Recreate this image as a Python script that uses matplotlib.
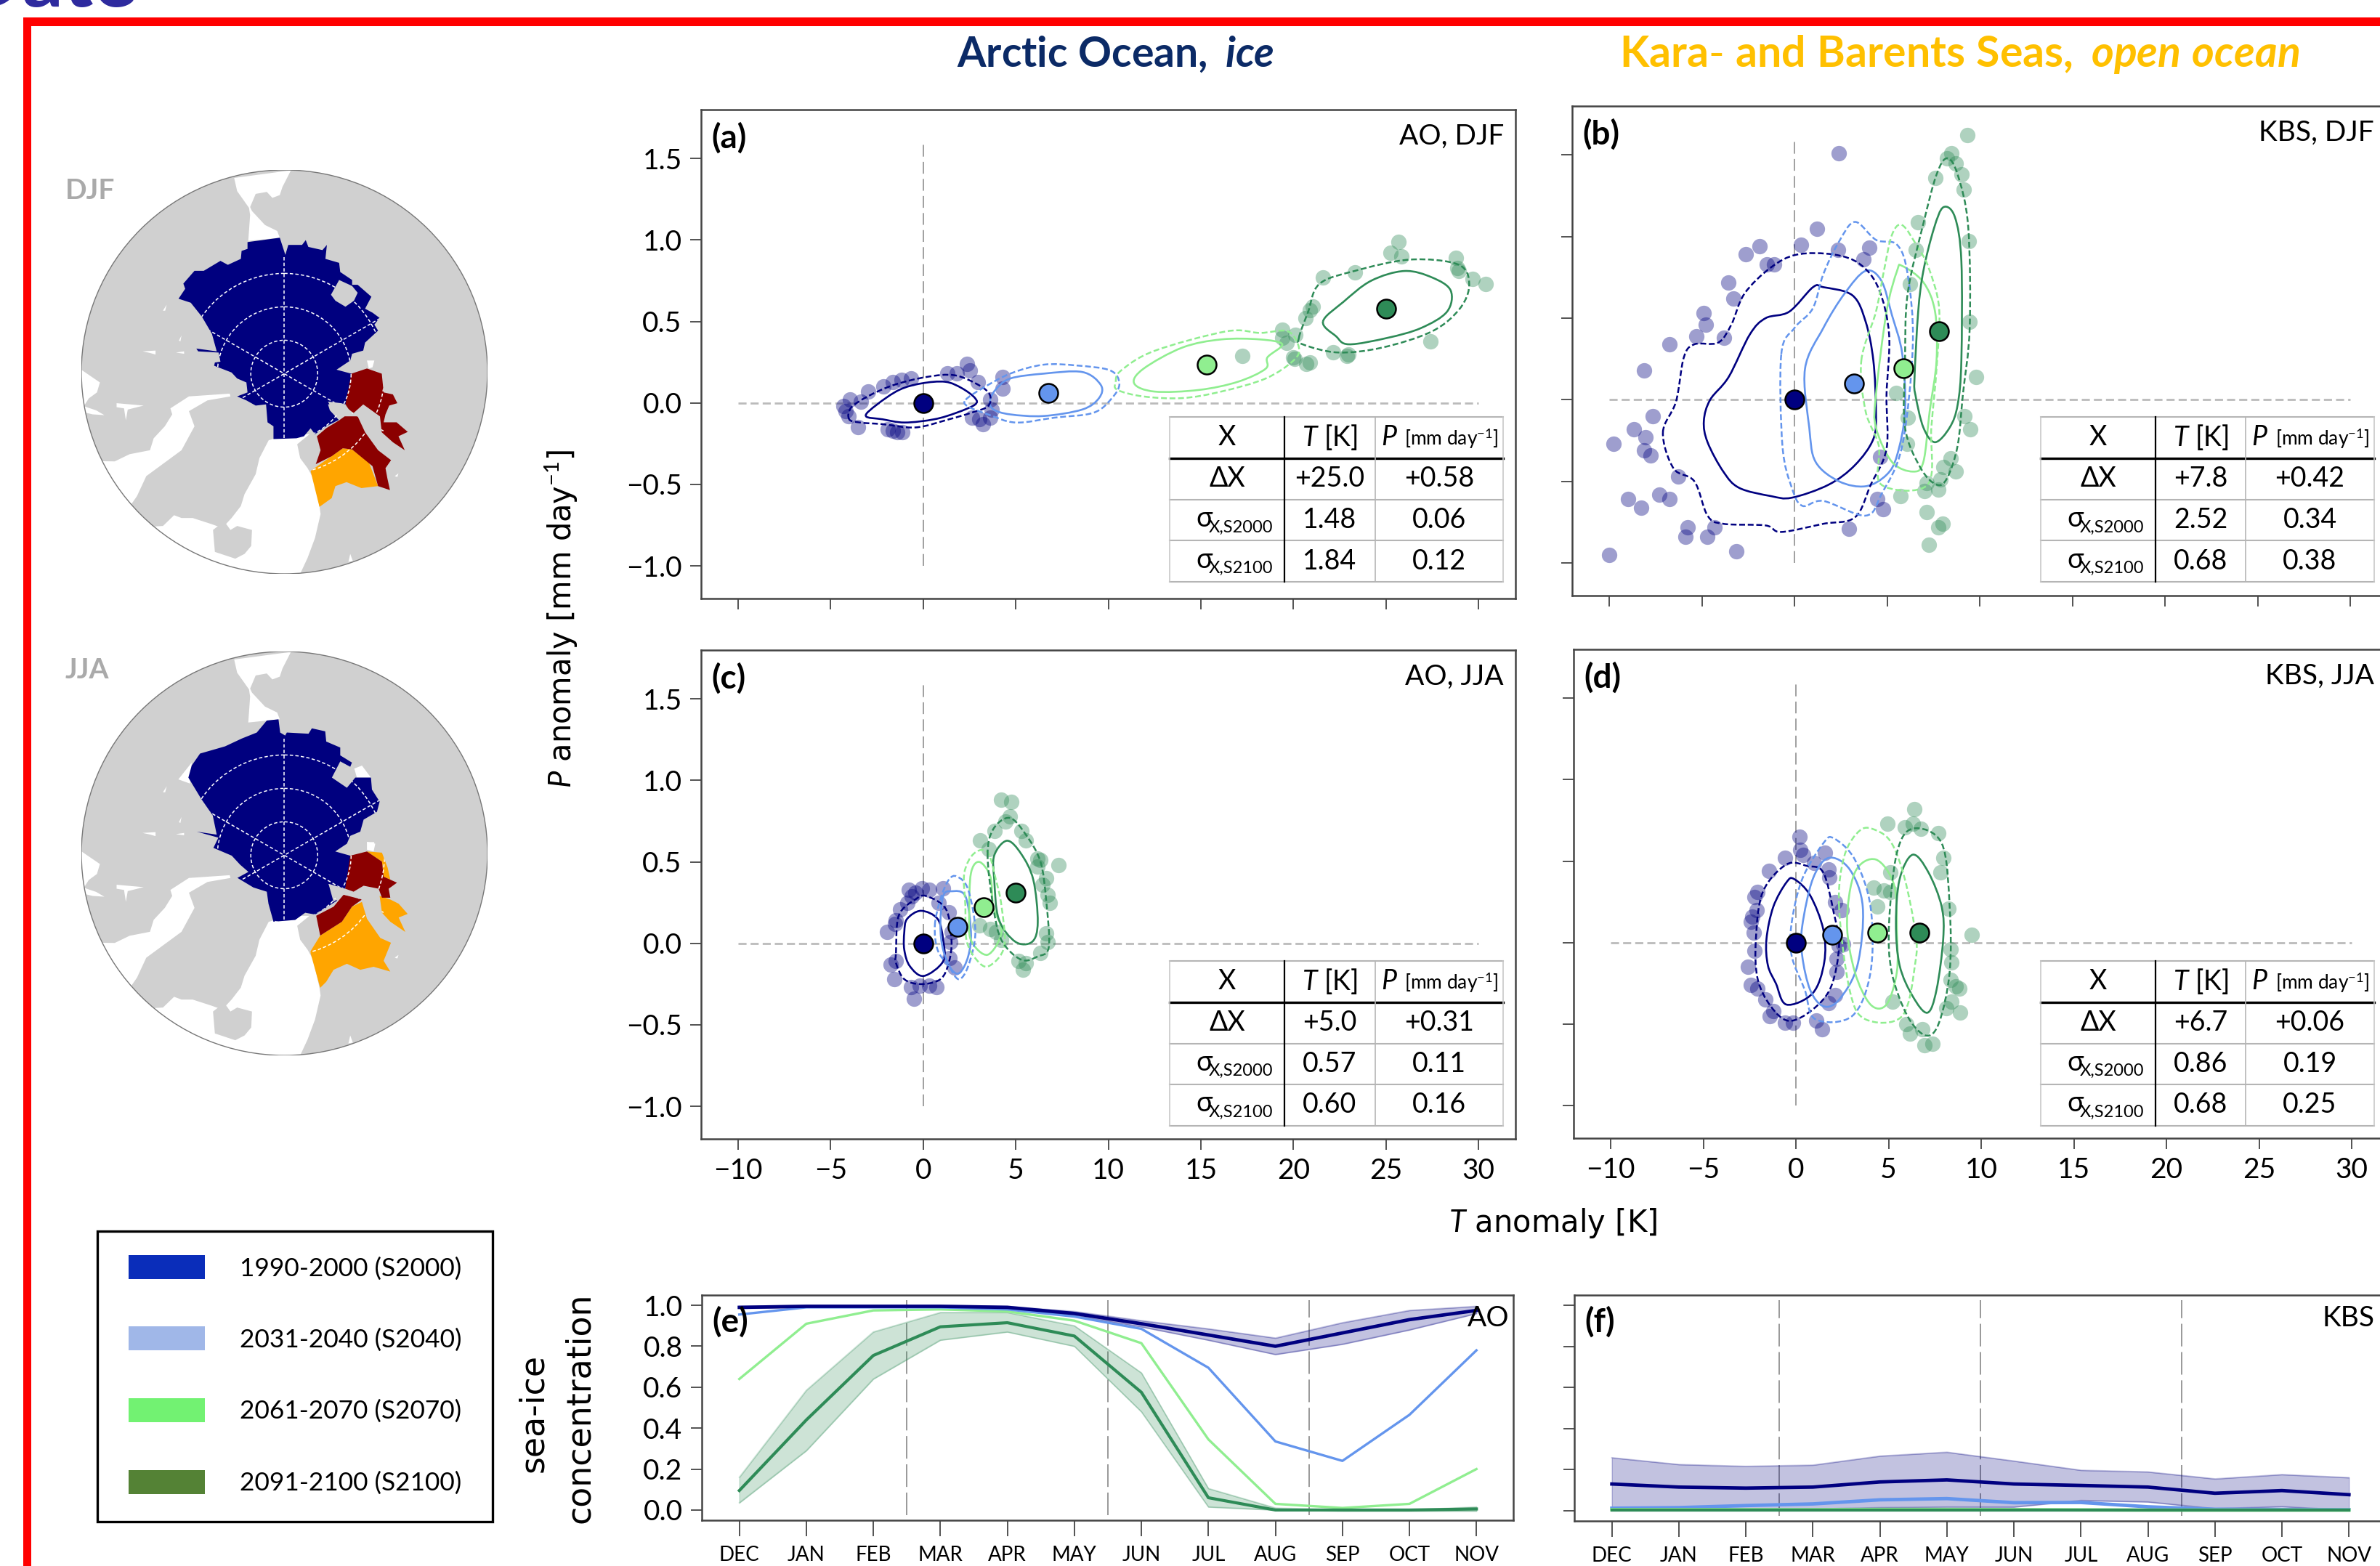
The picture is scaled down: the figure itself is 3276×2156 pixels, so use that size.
#!/usr/bin/env python3
import numpy as np
import matplotlib
matplotlib.use("Agg")
import matplotlib.pyplot as plt
from matplotlib.patches import Ellipse, PathPatch, Polygon, Rectangle
from matplotlib.path import Path

plt.rcParams['font.family'] = ['Lato', 'DejaVu Sans']
plt.rcParams['mathtext.fontset'] = 'custom'
plt.rcParams['mathtext.rm'] = 'Lato'
plt.rcParams['mathtext.it'] = 'Lato:italic'
plt.rcParams['mathtext.bf'] = 'Lato:bold'
plt.rcParams['mathtext.bfit'] = 'Lato:italic:bold'

W, H = 3276, 2156
NAVY, BLUE, LT, DARK = 'navy', 'cornflowerblue', 'lightgreen', 'seagreen'
series_colors = [NAVY, BLUE, LT, DARK]

# ---- scatter panels: ensemble members (T, P anomaly), means, contours
a_navy = [(-4.32,-0.02),(-3.96,0.02),(-4.17,-0.05),(-4.02,-0.08),(-3.36,0.01),(-2.97,0.07),(-2.16,0.10),(-1.62,0.13),(-1.17,0.14),(-0.66,0.15),(-3.51,-0.15),(-1.92,-0.16),(-1.62,-0.17),(-1.41,-0.18),(-1.11,-0.18),(1.29,0.18),(1.83,0.18),(2.37,0.24),(2.52,0.20),(2.94,0.13),(3.63,0.02),(3.69,-0.04),(2.64,-0.09),(3.03,-0.10),(3.24,-0.13),(3.63,-0.09),(4.29,0.16),(4.29,0.09)]
a_dark = [(25.7,0.99),(25.26,0.92),(25.83,0.90),(28.77,0.89),(28.86,0.83),(28.92,0.81),(29.7,0.76),(30.39,0.73),(21.6,0.77),(23.33,0.80),(21.05,0.59),(20.9,0.57),(20.66,0.52),(27.42,0.38),(19.4,0.45),(19.4,0.40),(20.09,0.42),(19.64,0.37),(17.24,0.29),(20.0,0.28),(20.06,0.27),(20.9,0.25),(20.69,0.24),(22.16,0.31),(22.9,0.29),(22.97,0.30)]
a_means = [(0,0),(6.76,0.06),(15.3,0.235),(25.0,0.58)]
a_solid = [
    [(-3.1,-0.08),(-2.5,-0.01),(-1.3,0.08),(-0.1,0.12),(1.2,0.13),(2.1,0.09),(2.8,0.03),(2.8,-0.01),(1.8,-0.06),(0.6,-0.10),(-1.0,-0.12),(-2.2,-0.10)],
    [(3.6,0.01),(3.9,0.08),(4.7,0.15),(6.5,0.18),(8.6,0.19),(9.6,0.11),(9.5,0.03),(8.6,-0.04),(6.5,-0.08),(4.7,-0.07),(3.8,-0.04)],
    [(11.4,0.12),(11.9,0.21),(14.0,0.34),(16.1,0.39),(18.2,0.39),(19.4,0.36),(18.6,0.28),(18.5,0.21),(17.0,0.13),(14.9,0.08),(12.5,0.07)],
    [(21.6,0.50),(22.7,0.62),(24.2,0.75),(26.0,0.81),(27.5,0.77),(28.5,0.69),(28.3,0.56),(26.9,0.46),(25.1,0.40),(23.0,0.36),(22.3,0.41)],
]
a_dashed = [
    [(-4.0,-0.10),(-3.9,-0.03),(-3.0,0.04),(-1.6,0.11),(0.2,0.16),(1.7,0.17),(3.0,0.11),(3.6,0.05),(3.5,-0.02),(2.6,-0.06),(1.4,-0.10),(-0.4,-0.15),(-2.2,-0.13),(-3.4,-0.12)],
    [(2.3,0.02),(3.2,0.09),(4.7,0.18),(6.5,0.235),(8.3,0.23),(10.1,0.20),(10.6,0.12),(10.2,0.03),(9.2,-0.06),(7.1,-0.09),(5.0,-0.12),(3.5,-0.07),(2.4,-0.02)],
    [(10.4,0.13),(10.7,0.20),(12.5,0.32),(16.4,0.44),(18.2,0.43),(19.7,0.44),(20.3,0.34),(20.0,0.26),(18.5,0.15),(16.1,0.07),(14.0,0.03),(11.9,0.04),(10.5,0.08)],
    [(20.3,0.40),(20.8,0.56),(21.4,0.73),(23.3,0.81),(26.3,0.88),(28.9,0.85),(29.5,0.73),(29.0,0.58),(27.5,0.44),(24.8,0.34),(22.4,0.31),(20.5,0.36)],
]

b_navy = [(2.41,1.51),(1.22,1.05),(0.37,0.95),(-1.88,0.94),(-2.61,0.89),(-1.48,0.83),(-1.08,0.83),(2.36,0.92),(4.03,0.93),(3.72,0.86),(-3.55,0.72),(-3.30,0.62),(-4.91,0.53),(-4.77,0.46),(-5.31,0.39),(-3.81,0.38),(-6.73,0.34),(-8.13,0.18),(-7.64,-0.10),(-8.66,-0.18),(-8.04,-0.23),(-9.77,-0.27),(-8.13,-0.31),(-7.76,-0.34),(-6.28,-0.47),(-7.30,-0.58),(-6.76,-0.61),(-9.0,-0.61),(-8.27,-0.66),(-5.77,-0.78),(-5.88,-0.84),(-4.32,-0.78),(-4.69,-0.84),(-3.13,-0.93),(-10.0,-0.95),(2.93,-0.79),(4.46,-0.61),(4.80,-0.67),(4.63,-0.35)]
b_dark = [(9.32,1.62),(8.47,1.51),(8.24,1.48),(8.72,1.45),(9.03,1.38),(9.12,1.29),(7.59,1.36),(6.68,1.09),(9.40,0.97),(6.53,0.92),(6.25,0.71),(9.46,0.48),(9.80,0.14),(5.48,0.04),(6.11,-0.11),(9.18,-0.10),(9.49,-0.18),(6.08,-0.27),(8.44,-0.36),(8.04,-0.41),(8.72,-0.44),(7.90,-0.49),(7.13,-0.51),(7.02,-0.56),(7.76,-0.55),(5.74,-0.59),(7.13,-0.69),(8.01,-0.76),(7.78,-0.78),(7.27,-0.89)]
b_means = [(0,0),(3.21,0.10),(5.88,0.195),(7.81,0.42)]
b_solid = [
    [(-4.89,-0.13),(-4.55,0),(-3.55,0.14),(-2.41,0.40),(-1.56,0.50),(-0.28,0.54),(1.0,0.69),(1.56,0.69),(3.13,0.64),(3.84,0.48),(4.26,0.24),(4.40,-0.07),(4.26,-0.24),(3.27,-0.40),(1.85,-0.52),(-0.14,-0.60),(-1.28,-0.59),(-2.98,-0.54),(-3.84,-0.44),(-4.69,-0.26)],
    [(0.57,0.19),(1.56,0.44),(2.70,0.65),(3.84,0.79),(4.69,0.73),(5.26,0.52),(5.82,0.28),(5.97,-0.07),(5.54,-0.34),(4.97,-0.46),(3.84,-0.53),(2.41,-0.50),(1.14,-0.38),(0.80,-0.17)],
    [(4.40,0.03),(4.97,0.54),(5.54,0.79),(5.82,0.82),(6.96,0.72),(7.59,0.54),(7.67,0.24),(7.30,-0.07),(6.96,-0.38),(6.39,-0.44),(5.26,-0.38),(4.40,-0.17)],
    [(6.48,0.13),(6.68,0.54),(6.96,0.79),(7.53,1.05),(8.04,1.18),(8.66,1.12),(9.01,0.85),(9.01,0.24),(8.81,-0.03),(8.38,-0.17),(7.59,-0.26),(6.96,-0.17),(6.53,0.03)],
]
b_dashed = [
    [(-7.10,-0.20),(-6.39,-0.01),(-5.97,0.26),(-5.40,0.34),(-4.12,0.35),(-3.41,0.46),(-2.70,0.65),(-1.28,0.81),(0.14,0.89),(2.13,0.89),(3.55,0.83),(4.55,0.68),(5.11,0.40),(4.97,0.03),(4.97,-0.30),(4.12,-0.52),(3.27,-0.72),(1.56,-0.76),(-0.71,-0.81),(-1.56,-0.77),(-3.84,-0.76),(-4.69,-0.71),(-5.40,-0.50),(-6.53,-0.42)],
    [(-0.71,0.28),(0,0.44),(0.99,0.56),(1.56,0.77),(2.41,0.97),(3.27,1.09),(4.40,0.98),(5.54,0.95),(6.11,0.77),(6.39,0.34),(5.82,-0.28),(4.69,-0.58),(3.84,-0.71),(1.56,-0.62),(0.43,-0.65),(-0.14,-0.54),(-0.65,-0.28)],
    [(3.61,0.24),(4.40,0.54),(4.83,0.79),(5.26,1.01),(5.82,1.07),(6.68,0.93),(7.24,0.81),(7.81,0.56),(7.67,0.19),(7.39,-0.17),(7.19,-0.52),(4.69,-0.52),(4.55,-0.28),(3.84,-0.07)],
    [(5.97,0.24),(6.11,0.65),(6.96,1.08),(7.67,1.38),(8.24,1.48),(8.81,1.38),(9.38,1.06),(9.46,0.44),(9.09,0.03),(8.81,-0.28),(8.24,-0.48),(7.67,-0.52),(6.82,-0.42),(5.97,-0.17)],
]

c_navy = [(-1.95,0.07),(-1.47,0.14),(-1.53,0.12),(-1.23,0.21),(-0.87,0.25),(-0.63,0.29),(-0.78,0.33),(-0.42,0.31),(-0.06,0.34),(0.33,0.33),(1.08,0.34),(0.84,0.25),(1.38,0.19),(1.53,0.07),(1.47,0.01),(-1.77,-0.13),(-1.47,-0.11),(-1.56,-0.22),(1.44,-0.09),(1.68,-0.15),(-0.66,-0.27),(-0.18,-0.26),(-0.48,-0.34),(0.33,-0.26),(0.72,-0.27)]
c_dark = [(4.2,0.88),(4.77,0.87),(4.68,0.78),(4.44,0.75),(3.84,0.69),(3.09,0.63),(3.54,0.58),(5.29,0.69),(5.56,0.63),(6.19,0.52),(6.34,0.51),(7.33,0.48),(6.64,0.40),(6.43,0.36),(6.73,0.30),(6.85,0.25),(6.19,0.47),(3.03,0.11),(3.63,0.09),(3.93,0.07),(4.23,0.02),(6.64,0.06),(6.73,0.01),(6.34,-0.06),(5.14,-0.11),(5.53,-0.12),(5.38,-0.16)]
c_means = [(0,0),(1.86,0.10),(3.27,0.22),(5.0,0.31)]
c_solid = [
    [(-1.02,0.07),(-0.87,0.15),(-0.12,0.20),(0.78,0.15),(1.08,0.02),(1.08,-0.11),(0.03,-0.20),(-0.72,-0.14),(-1.02,-0.04)],
    [(0.93,0.11),(1.08,0.29),(1.53,0.32),(2.28,0.29),(2.58,0.07),(2.43,-0.08),(1.98,-0.18),(1.53,-0.16),(1.08,-0.04)],
    [(2.49,0.19),(2.58,0.43),(3.03,0.50),(3.63,0.41),(3.78,0.23),(4.23,0.07),(3.48,-0.07),(2.58,0.02)],
    [(3.84,0.39),(3.84,0.54),(4.53,0.63),(5.29,0.55),(5.95,0.39),(6.19,0.13),(5.89,0.01),(4.98,0.01),(4.08,0.15)],
]
c_dashed = [
    [(-1.47,-0.06),(-1.32,0.17),(-0.42,0.27),(0.18,0.29),(1.23,0.21),(1.53,0.02),(1.38,-0.12),(0.93,-0.22),(-0.12,-0.25),(-1.02,-0.22),(-1.47,-0.12)],
    [(0.63,0.11),(0.93,0.27),(1.38,0.39),(1.83,0.41),(2.43,0.33),(2.82,0.07),(2.43,-0.14),(1.92,-0.22),(1.38,-0.14),(0.78,-0.04)],
    [(2.28,0.23),(2.22,0.43),(2.73,0.55),(3.48,0.56),(3.93,0.39),(4.23,0.23),(4.38,-0.02),(3.54,-0.14),(2.88,-0.10),(2.34,0.02)],
    [(3.48,0.54),(3.78,0.70),(4.68,0.77),(5.59,0.66),(6.34,0.50),(6.64,0.27),(6.79,-0.02),(6.19,-0.08),(5.29,-0.10),(4.23,0.02),(3.78,0.23)],
]

d_navy = [(0.20,0.65),(0.23,0.57),(0.40,0.54),(-0.60,0.52),(-1.45,0.44),(1.56,0.55),(0.97,0.49),(1.76,0.45),(1.82,0.40),(-2.07,0.31),(-2.22,0.28),(-2.13,0.20),(-2.36,0.16),(-2.44,0.13),(-2.27,0.06),(-2.22,-0.05),(-2.59,-0.15),(-2.44,-0.26),(-2.07,-0.28),(-1.65,-0.35),(-1.22,-0.42),(-1.42,-0.45),(-0.60,-0.49),(-0.14,-0.49),(1.11,-0.48),(1.42,-0.53),(1.76,-0.37),(2.10,-0.32),(2.19,-0.18),(2.19,-0.10),(2.33,-0.02),(2.56,-0.01),(2.13,0.25),(2.47,0.20)]
d_dark = [(6.39,0.82),(4.94,0.73),(5.88,0.71),(6.31,0.73),(6.73,0.70),(7.67,0.67),(7.95,0.52),(7.81,0.43),(5.11,0.43),(4.18,0.34),(4.74,0.32),(5.11,0.31),(4.40,0.22),(8.24,0.21),(9.49,0.05),(8.35,-0.04),(8.38,-0.12),(8.35,-0.23),(8.64,-0.27),(8.81,-0.28),(8.38,-0.36),(8.10,-0.40),(8.86,-0.43),(5.20,-0.36),(5.97,-0.50),(6.14,-0.56),(6.82,-0.53),(6.93,-0.63),(7.39,-0.62)]
d_means = [(0,0),(1.96,0.05),(4.38,0.06),(6.65,0.06)]
d_solid = [
    [(-1.59,0.02),(-1.22,0.22),(-0.51,0.37),(-0.09,0.39),(0.77,0.29),(1.48,0.08),(1.53,-0.12),(0.91,-0.31),(-0.51,-0.38),(-1.08,-0.25),(-1.51,-0.14)],
    [(0.34,0.10),(0.91,0.39),(1.76,0.52),(2.90,0.45),(3.61,0.22),(3.32,-0.14),(2.33,-0.35),(1.48,-0.39),(0.77,-0.29),(0.34,-0.08)],
    [(2.76,0.12),(3.18,0.43),(4.32,0.51),(5.31,0.35),(5.45,0.06),(5.45,-0.18),(4.89,-0.38),(4.03,-0.38),(3.18,-0.18)],
    [(5.40,0.12),(5.60,0.39),(6.31,0.54),(7.16,0.43),(7.87,0.22),(7.95,0.02),(7.59,-0.29),(7.10,-0.43),(6.31,-0.33),(5.60,-0.14)],
]
d_dashed = [
    [(-2.16,0.02),(-1.79,0.31),(-0.51,0.48),(0.63,0.47),(1.48,0.43),(2.05,0.18),(2.33,-0.02),(1.90,-0.27),(0.91,-0.41),(-0.37,-0.48),(-1.36,-0.39),(-2.07,-0.22)],
    [(-0.23,0.12),(0.34,0.39),(1.48,0.61),(2.05,0.64),(3.18,0.51),(4.03,0.22),(4.03,-0.18),(3.04,-0.45),(1.05,-0.47),(0.48,-0.29),(-0.23,-0.08)],
    [(2.33,0.22),(2.61,0.53),(3.47,0.69),(4.32,0.69),(5.17,0.61),(5.88,0.39),(6.45,0.06),(6.45,-0.12),(5.74,-0.45),(3.75,-0.47),(2.90,-0.29)],
    [(5.03,0.12),(5.45,0.55),(6.31,0.70),(7.87,0.61),(8.30,0.22),(8.30,-0.18),(7.73,-0.49),(7.02,-0.57),(6.02,-0.45),(5.17,-0.18)],
]

table_a = [["+25.0","+0.58"],["1.48","0.06"],["1.84","0.12"]]
table_b = [["+7.8","+0.42"],["2.52","0.34"],["0.68","0.38"]]
table_c = [["+5.0","+0.31"],["0.57","0.11"],["0.60","0.16"]]
table_d = [["+6.7","+0.06"],["0.86","0.19"],["0.68","0.25"]]

# ---- sea-ice panels
months = ["DEC","JAN","FEB","MAR","APR","MAY","JUN","JUL","AUG","SEP","OCT","NOV"]
e_navy = [0.99,0.995,0.995,0.995,0.99,0.96,0.91,0.855,0.80,0.865,0.93,0.975]
e_navy_hi = [0.995,1.0,1.0,1.0,0.995,0.97,0.925,0.885,0.84,0.915,0.975,0.995]
e_navy_lo = [0.985,0.99,0.99,0.99,0.985,0.95,0.895,0.83,0.76,0.81,0.88,0.96]
e_blue = [0.955,0.99,0.99,0.99,0.98,0.945,0.885,0.695,0.335,0.24,0.465,0.78]
e_lt = [0.64,0.91,0.975,0.98,0.97,0.925,0.815,0.345,0.03,0.01,0.03,0.2]
e_dark = [0.095,0.44,0.755,0.895,0.915,0.85,0.575,0.06,0.0,0.0,0.0,0.005]
e_dark_hi = [0.16,0.585,0.87,0.965,0.965,0.90,0.67,0.105,0.01,0.0,0.0,0.015]
e_dark_lo = [0.035,0.29,0.64,0.83,0.87,0.80,0.48,0.015,0.0,-0.005,-0.005,-0.005]
f_navy = [0.13,0.115,0.11,0.115,0.14,0.15,0.13,0.123,0.115,0.085,0.098,0.078]
f_navy_hi = [0.258,0.225,0.216,0.222,0.266,0.285,0.242,0.197,0.189,0.155,0.176,0.161]
f_navy_lo = [0.01,0.008,0.008,0.008,0.015,0.018,0.018,0.05,0.043,0.01,0.02,0.002]
f_blue = [0.012,0.015,0.025,0.033,0.053,0.059,0.039,0.04,0.019,0.007,0.006,0.005]
f_lt = [0.005,0.005,0.005,0.005,0.006,0.006,0.005,0.004,0.003,0.003,0.003,0.003]
f_dark = [0.002,0.002,0.002,0.002,0.002,0.002,0.002,0.002,0.002,0.002,0.002,0.002]

white_seas = [
    [(632,447),(785,428),(762,470),(755,490),(735,497),(720,482),(690,487),(675,520),(680,530),(715,565),(748,580),(755,597),(670,605),(675,540),(672,522),(640,480)],
    [(215,925),(270,960),(262,985),(240,1000),(225,1022),(215,1022)],
    [(228,1020),(260,1030),(282,1042),(250,1040),(228,1035)],
    [(315,1012),(388,1018),(345,1028),(340,1055),(335,1025),(315,1022)],
    [(725,1105),(700,1150),(690,1190),(660,1240),(650,1270),(625,1300),(600,1325),(570,1315),(520,1300),(490,1300),(470,1293),(440,1320),(400,1322),(500,1460),(800,1460),(830,1400),(850,1350),(865,1290),(862,1270),(845,1200),(830,1175),(810,1150),(802,1115),(835,1090),(780,1090)],
    [(240,1157),(310,1158),(350,1140),(405,1130),(415,1100),(445,1070),(465,1040),(460,1025),(510,995),(620,988),(622,995),(560,1005),(510,1032),(525,1070),(490,1130),(395,1195),(370,1245),(355,1265),(330,1300),(240,1250)],
    [(385,882),(420,880),(420,890),(405,886)],
    [(475,885),(497,882),(497,888)],
    [(440,780),(450,765),(446,780)],
    [(483,855),(490,842),(487,857)],
    [(990,905),(1010,905),(1005,922),(995,925)],
    [(940,1410),(945,1390),(952,1408)],
    [(1065,1195),(1075,1188),(1072,1197)],
]
iceland = [(575,1330),(605,1308),(622,1330),(640,1320),(680,1330),(678,1370),(660,1390),(635,1402),(580,1385)]
djf_blue = [(668,608),(755,597),(770,640),(778,615),(815,615),(825,603),(832,620),(870,628),(882,615),(878,650),(915,660),(918,683),(950,703),(950,715),(965,715),(1002,745),(985,775),(1005,785),(1024,798),(1010,815),(1020,830),(985,860),(980,880),(950,888),(945,905),(908,928),(948,938),(945,990),(932,1015),(920,1012),(885,1008),(900,1035),(918,1052),(880,1070),(850,1090),(838,1075),(820,1095),(800,1100),(738,1102),(738,1070),(722,1060),(718,1015),(690,1018),(665,1005),(640,995),(668,985),(665,960),(640,950),(625,935),(578,918),(580,910),(595,908),(590,885),(535,882),(530,875),(585,882),(572,838),(545,795),(515,760),(482,750),(500,725),(495,712),(525,680),(550,680),(595,655),(615,665),(650,650),(652,630),(668,625)]
djf_island = [(893,740),(915,703),(950,718),(965,735),(955,755),(932,770),(905,755)]
djf_red = [
    [(948,938),(990,925),(1030,938),(1035,985),(1060,990),(1072,1012),(1050,1018),(1040,1040),(1035,1060),(1070,1060),(1100,1084),(1075,1095),(1092,1130),(1060,1110),(1030,1085),(1025,1045),(980,1015),(950,1040),(932,1015)],
    [(930,1038),(965,1045),(985,1085),(1020,1130),(1055,1155),(1040,1175),(1045,1200),(1052,1230),(1020,1220),(1005,1170),(950,1128),(925,1125),(895,1145),(852,1165),(865,1130),(855,1095),(880,1075),(915,1055)],
]
djf_orange = [[(838,1182),(925,1125),(950,1128),(995,1160),(1020,1220),(975,1225),(935,1210),(905,1220),(895,1250),(862,1272)]]
djf_spit = [(885,1015),(920,1012),(965,1045),(930,1045),(915,1055),(890,1030)]

# JJA outlines, traced on their own grid (see jja_grid)
jja_blue_raw = [(770,180),(800,160),(835,158),(840,180),(855,185),(860,180),(925,182),(935,173),(975,178),(978,195),(1020,205),(1020,218),(1055,230),(1050,237),(1020,228),(995,255),(1040,272),(1065,255),(1112,255),(1115,275),(1138,295),(1130,312),(1090,325),(1080,345),(1050,352),(1040,365),(1005,378),(1050,385),(1052,405),(1035,440),(985,432),(1000,450),(1010,460),(945,483),(915,480),(885,492),(820,495),(805,465),(800,445),(760,438),(712,422),(745,412),(720,400),(695,385),(640,372),(655,355),(590,345),(650,350),(638,318),(603,290),(565,255),(575,235),(600,215),(675,203),(725,190)]
jja_red_raw = [
    [(1050,385),(1100,378),(1145,395),(1150,420),(1190,430),(1165,440),(1170,455),(1145,455),(1135,440),(1090,435),(1060,445),(1035,440)],
    [(948,485),(1000,470),(1030,450),(1085,458),(1055,470),(1025,495),(960,518)],
]
jja_orange_raw = [
    [(1100,378),(1145,380),(1162,405),(1170,425),(1150,420),(1145,395)],
    [(1138,452),(1170,458),(1195,465),(1222,482),(1195,488),(1215,512),(1170,495),(1145,480)],
    [(930,545),(960,518),(1025,495),(1055,470),(1085,462),(1100,490),(1140,522),(1172,530),(1150,560),(1170,578),(1120,570),(1080,575),(1040,565),(1000,575),(978,595),(960,605)],
]
jja_spit_raw = [(985,432),(1030,440),(1075,455),(1030,450),(1000,462)]
jja_white_raw = [[(535,258),(575,230),(570,265)],[(1062,240),(1085,235),(1112,255),(1070,255)],[(1100,362),(1125,365),(1120,378),(1100,375)]]

legend_labels = ["1990-2000 (S2000)","2031-2040 (S2040)","2061-2070 (S2070)","2091-2100 (S2100)"]
legend_colors = ['#0a2dba','#a0b7e8','#72f272','#548235']

LAND = '#d0d0d0'


def jja_grid(pts):
    return [(x*0.9, 359+y*1.5066) for x, y in pts]


def px_axes(l, t, r, b):
    return fig.add_axes([l/W, 1-b/H, (r-l)/W, (b-t)/H])


def style_axes(ax):
    for s in ax.spines.values():
        s.set_color('#444444')
        s.set_linewidth(1.8)
    ax.tick_params(length=11, width=1.3, color='#444444', labelsize=28, pad=8)


def loop_path(loop):
    # closed smooth curve through the read contour points
    pts = np.array(loop)
    verts = [pts[0]]
    codes = [Path.MOVETO]
    n = len(pts)
    for i in range(n):
        p0, p1, p2, p3 = pts[i-1], pts[i], pts[(i+1) % n], pts[(i+2) % n]
        verts += [p1+(p2-p0)/6, p2-(p3-p1)/6, p2]
        codes += [Path.CURVE4]*3
    return Path(verts, codes)


def draw_scatter(box, navy, dark, means, solid, dashed, tag, name, left_labels, bottom_labels):
    ax = px_axes(*box)
    style_axes(ax)
    ax.set_xlim(-12, 32)
    ax.set_ylim(-1.2, 1.8)
    ax.set_xticks(range(-10, 31, 5))
    ax.set_yticks([-1.0,-0.5,0,0.5,1.0,1.5])
    ax.set_yticklabels(["\u22121.0","\u22120.5","0.0","0.5","1.0","1.5"] if left_labels else [])
    ax.set_xticklabels([f"{v}".replace("-","\u2212") for v in range(-10,31,5)] if bottom_labels else [])
    ax.plot([0,0],[-1.0,1.6],color='#999999',lw=1.3,dashes=(9,4),zorder=1)
    ax.plot([-10,30],[0,0],color='#bbbbbb',lw=2,dashes=(4,2),zorder=1)
    for pts, col in ((navy,NAVY),(dark,DARK)):
        ax.scatter([p[0] for p in pts],[p[1] for p in pts],s=235,color=col,alpha=0.38,linewidths=0,zorder=2)
    for loop, col in zip(solid, series_colors):
        ax.add_patch(PathPatch(loop_path(loop),fill=False,edgecolor=col,lw=1.9,zorder=3))
    for loop, col in zip(dashed, series_colors):
        ax.add_patch(PathPatch(loop_path(loop),fill=False,edgecolor=col,lw=1.8,ls=(0,(3.2,1.5)),zorder=3))
    for m, col in zip(means, series_colors):
        ax.scatter([m[0]],[m[1]],s=350,color=col,edgecolors='black',linewidths=1.8,zorder=4)
    ax.text(0.013, 0.942, tag, transform=ax.transAxes, fontsize=33, fontweight='bold', va='center', ha='left')
    over.text(name[1], box[1]+37, name[0], fontsize=28, va='center', ha='right')
    return ax


def draw_table(cols, rows, vals):
    x0, x1, x2, x3 = cols
    for y in rows:
        thick = y == rows[1]
        over.plot([x0,x3],[y,y],color='black' if thick else '#b5b5b5',lw=2.4 if thick else 1.5,zorder=6)
    over.plot([x0,x0],[rows[0],rows[-1]],color='#c8c8c8',lw=1.2,zorder=6)
    over.plot([x3,x3],[rows[0],rows[-1]],color='#c8c8c8',lw=1.2,zorder=6)
    over.plot([x1,x1],[rows[0],rows[-1]],color='black',lw=1.6,zorder=6)
    over.plot([x2,x2],[rows[0],rows[-1]],color='#b5b5b5',lw=1.2,zorder=6)
    mids = [(rows[i]+rows[i+1])/2 for i in range(4)]
    over.text((x0+x1)/2, mids[0], "X", fontsize=27, ha='center', va='center')
    over.text((x1+x2)/2, mids[0], r"$\mathit{T}$ [K]", fontsize=27, ha='center', va='center')
    over.text(x2+8, mids[0], r"$\mathit{P}$", fontsize=27, ha='left', va='center')
    over.text(x3-6, mids[0]+2, r"[mm day$^{-1}$]", fontsize=19, ha='right', va='center')
    over.text((x0+x1)/2, mids[1], "\u0394X", fontsize=27, ha='center', va='center')
    for i, lab in enumerate(["X,S2000","X,S2100"]):
        over.text(x0+36, mids[2+i]-2, "\u03c3", fontsize=27, ha='left', va='center')
        over.text(x0+54, mids[2+i]+10, lab, fontsize=17, ha='left', va='center')
    for i, row in enumerate(vals):
        over.text((x1+x2)/2, mids[i+1], row[0], fontsize=27, ha='center', va='center')
        over.text((x2+x3)/2, mids[i+1], row[1], fontsize=27, ha='center', va='center')


def draw_ice(box, lines, bands, tag, name, name_x, left_labels):
    ax = px_axes(*box)
    style_axes(ax)
    x = np.arange(12)
    ax.set_xlim(-0.56, 11.55)
    ax.set_ylim(-0.05, 1.05)
    ax.set_xticks(x)
    ax.set_xticklabels(months, fontsize=20)
    ax.tick_params(axis='x', length=16, pad=9)
    ax.set_yticks([0,0.2,0.4,0.6,0.8,1.0])
    if not left_labels:
        ax.set_yticklabels([])
    for v in (2.5,5.5,8.5):
        ax.plot([v,v],[-0.025,1.025],color='#999999',lw=1.4,dashes=(16,4),zorder=1)
    for lo, hi, col in bands:
        ax.fill_between(x,lo,hi,color=col,alpha=0.24,zorder=2)
        ax.plot(x,lo,color=col,alpha=0.2,lw=1.4,zorder=2)
        ax.plot(x,hi,color=col,alpha=0.2,lw=1.4,zorder=2)
    for vals, col, lw in lines:
        ax.plot(x,vals,color=col,lw=lw,zorder=3)
    ax.text(0.013,0.88,tag,transform=ax.transAxes,fontsize=33,fontweight='bold',va='center',ha='left')
    over.text(name_x,1815,name,fontsize=28,va='center',ha='right',zorder=7)
    return ax


def draw_map(top, blue, reds, oranges, spit, extra_white, island, label, label_y):
    ax = px_axes(112, top, 671, top+556)
    ax.set_xlim(220,1315)
    ax.set_ylim(1440,427)
    ax.axis('off')
    edge = Ellipse((767.5,933.5),1095,1013,facecolor=LAND,edgecolor='none',zorder=1)
    ax.add_patch(edge)
    for poly in white_seas+extra_white:
        p = Polygon(poly,facecolor='white',edgecolor='none',zorder=2)
        ax.add_patch(p)
        p.set_clip_path(edge)
    ax.add_patch(Polygon(iceland,facecolor=LAND,edgecolor='none',zorder=3))
    regions = [blue]+reds+oranges
    ax.add_patch(Polygon(blue,facecolor='#00007f',edgecolor='none',zorder=4))
    for poly in oranges:
        ax.add_patch(Polygon(poly,facecolor='#ffa500',edgecolor='none',zorder=4))
    for poly in reds:
        ax.add_patch(Polygon(poly,facecolor='#8b0000',edgecolor='none',zorder=5))
    ax.add_patch(Polygon(spit,facecolor=LAND,edgecolor='none',zorder=5))
    if island:
        ax.add_patch(Polygon(island,facecolor=LAND,edgecolor='none',zorder=7))
    # graticule only shows on the shaded regions
    clip = Path.make_compound_path(*[Path(r+[r[0]],closed=True) for r in regions])
    for r in (46,92,138):
        c = Ellipse((767,938),2*r*1.96,2*r*1.823,fill=False,edgecolor='white',lw=1.1,ls=(0,(3,2)),zorder=6)
        ax.add_patch(c)
        c.set_clip_path(clip,ax.transData)
    for ang in (90,30,150):
        dx, dy = 160*1.96*np.cos(np.radians(ang)), 160*1.823*np.sin(np.radians(ang))
        l, = ax.plot([767-dx,767+dx],[938-dy,938+dy],color='white',lw=1.1,ls=(0,(3,2)),zorder=6)
        l.set_clip_path(clip,ax.transData)
    ax.add_patch(Ellipse((767.5,933.5),1095,1013,fill=False,edgecolor='#777777',lw=1.0,zorder=8))
    over.text(90,label_y,label,fontsize=28,fontweight='bold',color='#aaaaaa',va='center',ha='left')


fig = plt.figure(figsize=(W/100,H/100),dpi=100)

over = fig.add_axes([0,0,1,1],zorder=10)
over.set_xlim(0,W)
over.set_ylim(H,0)
over.axis('off')
over.patch.set_alpha(0)

# red frame and clipped heading of the slide
over.add_patch(Rectangle((32,24),W,12,facecolor='#ff0000',edgecolor='none'))
over.add_patch(Rectangle((32,24),11,H,facecolor='#ff0000',edgecolor='none'))
over.text(188,9,"Date",fontsize=80,fontweight='bold',color='#2e2a9e',ha='right',va='baseline')

over.text(1535,75,r"$\mathbf{Arctic\ Ocean,}\ \mathbfit{ice}$",fontsize=41,color='#0b2a66',ha='center',va='center')
over.text(2697,75,r"$\mathbf{Kara\text{-}\ and\ Barents\ Seas,}\ \mathbfit{open\ ocean}$",fontsize=42.5,color='#ffc000',ha='center',va='center')

draw_scatter((965,151,2086,824),a_navy,a_dark,a_means,a_solid,a_dashed,"(a)",("AO, DJF",2070),True,False)
draw_scatter((2164,146,3286,820),b_navy,b_dark,b_means,b_solid,b_dashed,"(b)",("KBS, DJF",3268),False,False)
draw_scatter((965,895,2086,1568),c_navy,c_dark,c_means,c_solid,c_dashed,"(c)",("AO, JJA",2070),True,True)
draw_scatter((2166,894,3288,1567),d_navy,d_dark,d_means,d_solid,d_dashed,"(d)",("KBS, JJA",3268),False,True)

draw_table((1610,1768,1893,2069),(574,630.5,688,744,801),table_a)
draw_table((2809,2967,3091,3268),(574,630.5,688,744,801),table_b)
draw_table((1610,1768,1893,2069),(1322.5,1379.5,1436.5,1493,1550),table_c)
draw_table((2809,2967,3091,3268),(1322.5,1379.5,1436.5,1493,1550),table_d)

over.text(773,852,r"$\mathit{P}$ anomaly [mm day$^{-1}$]",fontsize=30,family='DejaVu Sans',rotation=90,ha='center',va='center')
over.text(2137,1684,r"$\mathit{T}$ anomaly [K]",fontsize=30,family='DejaVu Sans',ha='center',va='center')

draw_ice((966,1783,2083,2093),
         [(e_lt,LT,2.4),(e_blue,BLUE,2.4),(e_dark,DARK,3.0),(e_navy,NAVY,3.4)],
         [(e_navy_lo,e_navy_hi,NAVY),(e_dark_lo,e_dark_hi,DARK)],"(e)","AO",2078,True)
draw_ice((2167,1783,3284,2094),
         [(f_navy,NAVY,3.4),(f_blue,BLUE,3.4),(f_lt,LT,3.4),(f_dark,DARK,3.0)],
         [(f_navy_lo,f_navy_hi,NAVY)],"(f)","KBS",3268,False)
over.text(735,1945,"sea-ice",fontsize=33,family='DejaVu Sans',rotation=90,ha='center',va='center')
over.text(799,1938,"concentration",fontsize=33,family='DejaVu Sans',rotation=90,ha='center',va='center')

draw_map(234,djf_blue,djf_red,djf_orange,djf_spit,[],djf_island,"DJF",263)
draw_map(897,jja_grid(jja_blue_raw),[jja_grid(p) for p in jja_red_raw],[jja_grid(p) for p in jja_orange_raw],jja_grid(jja_spit_raw),[jja_grid(p) for p in jja_white_raw],None,"JJA",923)

# legend box
over.add_patch(Rectangle((134,1695),544,400,fill=False,edgecolor='black',lw=2.4))
for lab, col, y in zip(legend_labels,legend_colors,(1744.5,1842.5,1941,2040)):
    over.add_patch(Rectangle((177,y-16.5),105,33,facecolor=col,edgecolor='none'))
    over.text(330,y+2,lab,fontsize=25.4,ha='left',va='center')

fig.savefig("out.png",dpi=100)
